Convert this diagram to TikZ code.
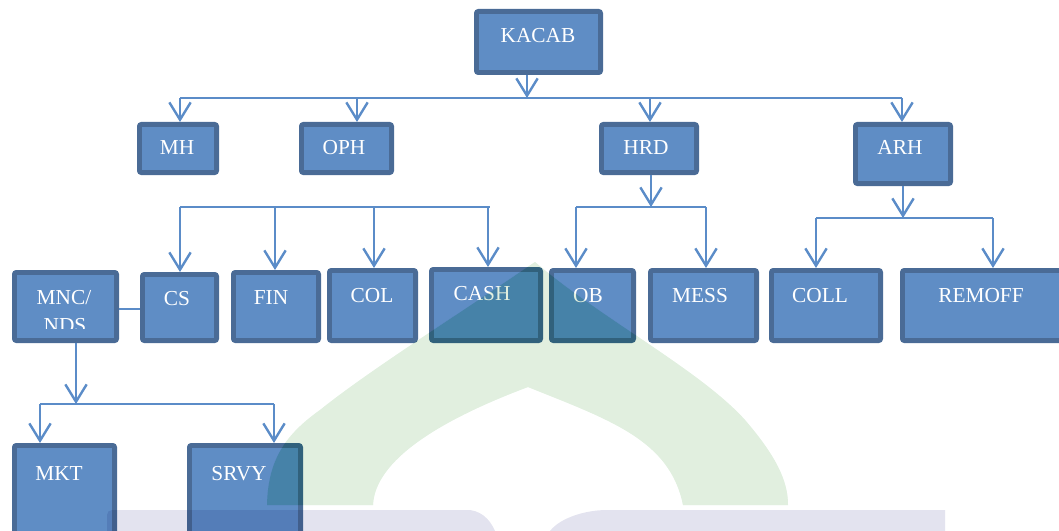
\documentclass[tikz,border=0pt]{standalone}
\usepackage{fontspec}
\setmainfont{Liberation Serif}
\usetikzlibrary{arrows.meta}
\definecolor{boxfill}{HTML}{5F8DC5}
\definecolor{boxedge}{HTML}{4A6B96}
\definecolor{conn}{HTML}{5B8CC8}
\definecolor{wmgreen}{HTML}{E3EFE0}
\definecolor{wmburn}{rgb}{0.92,0.98,0.94}
\definecolor{wmlav}{HTML}{E3E3EF}
\tikzset{
  box/.style={draw=boxedge, fill=boxfill, line width=3.6pt, rounded corners=1.5pt, inner sep=0pt},
  lbl/.style={text=white, font=\fontsize{16}{18}\selectfont, anchor=base, inner sep=0pt},
  link/.style={draw=conn, line width=1.8pt},
  arr/.style={link, -{Straight Barb[length=13pt, width=16pt]}},
  archpath/.style={},
}
\newcommand\mkbox[5]{\node[box, minimum width={(#4-#2-4.8)*0.75pt}, minimum height={(#5-#3-4.8)*0.75pt}] (#1) at ({(#2+#4)/2},{(#3+#5)/2}) {};}
\newcommand\archshape{(267,505) .. controls (268,460) and (285,435) .. (320,410)
     .. controls (370,370) and (450,320) .. (535,262)
     .. controls (600,318) and (700,370) .. (745,420)
     .. controls (775,455) and (788,480) .. (788,505) -- (683,505)
     .. controls (670,440) and (610,420) .. (528,387)
     .. controls (440,420) and (375,460) .. (373,505) -- cycle}
\begin{document}
\begin{tikzpicture}[x=0.75pt, y=-0.75pt]
\useasboundingbox (0,0) rectangle (1059,531);
% boxes
\mkbox{kacab}{474}{9}{603}{75}
\mkbox{mh}{137}{122}{219}{175}
\mkbox{oph}{299}{122}{394}{175}
\mkbox{hrd}{599}{122}{699}{175}
\mkbox{arh}{853}{122}{953}{186}
\mkbox{mnc}{12}{270}{119}{343}
\mkbox{cs}{140}{272}{219}{343}
\mkbox{fin}{231}{270}{321}{343}
\mkbox{col}{327}{268}{418}{343}
\mkbox{cash}{429}{267}{543}{343}
\mkbox{ob}{549}{268}{636}{343}
\mkbox{mess}{648}{268}{759}{343}
\mkbox{coll}{769}{268}{883}{343}
\mkbox{remoff}{900}{268}{1080}{343}
\mkbox{mkt}{12}{443}{117}{570}
\mkbox{srvy}{187}{443}{303}{570}
% labels
\node[lbl] (kacab-t) at (538,43) {KACAB};
\node[lbl] (mh-t) at (177,155) {MH};
\node[lbl] (oph-t) at (344,155) {OPH};
\node[lbl] (hrd-t) at (646,155) {HRD};
\node[lbl] (arh-t) at (900,155) {ARH};
\node[lbl] (mnc-t) at (64,304) {MNC/};
\begin{scope}
  \clip (0,0) rectangle (1059,328);
  \node[lbl] (mnc-t2) at (65,332) {NDS};
\end{scope}
\node[lbl] (cs-t) at (177,305) {CS};
\node[lbl] (fin-t) at (271,304) {FIN};
\node[lbl] (col-t) at (372,302) {COL};
\node[lbl] (cash-t) at (482,300) {CASH};
\node[lbl] (ob-t) at (588,302) {OB};
\node[lbl] (mess-t) at (700,302) {MESS};
\node[lbl] (coll-t) at (820,302) {COLL};
\node[lbl] (remoff-t) at (981,302) {REMOFF};
\node[lbl] (mkt-t) at (59,480) {MKT};
\node[lbl] (srvy-t) at (239,480) {SRVY};
% junction coordinates
\coordinate (j1) at (527,98);
\coordinate (j1a) at (180,98);
\coordinate (j1b) at (357,98);
\coordinate (j1c) at (650,98);
\coordinate (j1d) at (902,98);
\coordinate (j2a) at (180,207);
\coordinate (j2b) at (275,207);
\coordinate (j2c) at (374,207);
\coordinate (j2d) at (488,207);
\coordinate (j2e) at (490,207);
\coordinate (j3) at (651,207);
\coordinate (j3a) at (576,207);
\coordinate (j3b) at (706,207);
\coordinate (j4) at (903,218);
\coordinate (j4a) at (816,218);
\coordinate (j4b) at (993,218);
\coordinate (j5) at (76,404);
\coordinate (j5a) at (40,404);
\coordinate (j5b) at (274,404);
% connectors
\draw[arr] (kacab.south -| j1) -- (j1);
\draw[link] (j1a) -- (j1d);
\draw[arr] (j1a) -- (j1a |- mh.north);
\draw[arr] (j1b) -- (j1b |- oph.north);
\draw[arr] (j1c) -- (j1c |- hrd.north);
\draw[arr] (j1d) -- (j1d |- arh.north);
\draw[link] (j2a) -- (j2e);
\draw[arr] (j2a) -- (j2a |- cs.north);
\draw[arr] (j2b) -- (j2b |- fin.north);
\draw[arr] (j2c) -- (j2c |- col.north);
\draw[arr] (j2d) -- (j2d |- cash.north);
\draw[arr] (hrd.south -| j3) -- (j3);
\draw[link] (j3a) -- (j3b);
\draw[arr] (j3a) -- (j3a |- ob.north);
\draw[arr] (j3b) -- (j3b |- mess.north);
\draw[arr] (arh.south -| j4) -- (j4);
\draw[link] (j4a) -- (j4b);
\draw[arr] (j4a) -- (j4a |- coll.north);
\draw[arr] (j4b) -- (j4b |- remoff.north);
\draw[link] (mnc.east |- 0,309) -- (cs.west |- 0,309);
\draw[arr] (mnc.south -| j5) -- (j5);
\draw[link] (j5a) -- (j5b);
\draw[arr] (j5a) -- (j5a |- mkt.north);
\draw[arr] (j5b) -- (j5b |- srvy.north);
% watermark
\begin{scope}[blend mode=multiply]
  \fill[wmgreen] \archshape;
  \fill[wmlav] (107,531) -- (107,515) arc[start angle=180, end angle=270, radius=5] -- (470,510)
     .. controls (485,512) and (492,524) .. (495,531) -- cycle;
  \fill[wmlav] (550,531) .. controls (560,518) and (585,510) .. (607,510) -- (945,510) -- (945,531) -- cycle;
\end{scope}
\begin{scope}[blend mode=color burn]
  \fill[wmburn] \archshape;
\end{scope}
\end{tikzpicture}
\end{document}
